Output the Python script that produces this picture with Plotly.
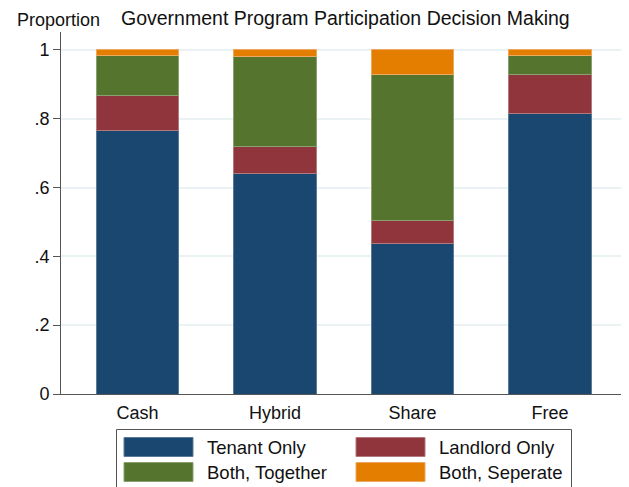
import plotly.graph_objects as go

# ── Data ──────────────────────────────────────────────
categories = ['Cash', 'Hybrid', 'Share', 'Free']
tenant_only = [0.765, 0.640, 0.436, 0.816]
landlord_only = [0.103, 0.078, 0.067, 0.112]
both_together = [0.115, 0.263, 0.425, 0.057]
both_separate = [0.017, 0.019, 0.072, 0.015]

series_names = ['Tenant Only', 'Landlord Only', 'Both, Together', 'Both, Seperate']
series_values = [tenant_only, landlord_only, both_together, both_separate]
colors = ['#1a476f', '#90353b', '#55752f', '#e37e00']
edge_colors = ['#5a7a98', '#b07a7e', '#8aa070', '#eea860']

y_tickvals = [0, 0.2, 0.4, 0.6, 0.8, 1]
y_ticktext = ['0', '.2', '.4', '.6', '.8', '1']

# page is shown with an 8px body margin, so the figure is 8px smaller
OFF = 8
W, H = 629 - OFF, 487 - OFF
L, R, T, B = 61 - OFF, 0, 32 - OFF, 93
FONT = 'Arial, Liberation Sans, sans-serif'


def px(x):
    # page pixel -> paper x
    return (x - OFF - L) / (W - L - R)


def py(y):
    # page pixel -> paper y
    return (H - B - (y - OFF)) / (H - T - B)


fig = go.Figure()
for name, vals, c, ec in zip(series_names, series_values, colors, edge_colors):
    fig.add_trace(go.Bar(
        x=categories, y=vals, name=name,
        marker=dict(color=c, line=dict(color=ec, width=1)),
        width=0.6, showlegend=False,
    ))

# ── Custom legend box (Stata-like) ────────────────────
fig.add_shape(type='rect', xref='paper', yref='paper',
              x0=px(116.5), x1=px(571.5), y0=py(500), y1=py(429.5),
              line=dict(color='#555555', width=1), fillcolor='white')
swatch_pos = [(124, 437.5), (356, 437.5), (124, 462.5), (356, 462.5)]
for (sx, sy), name, c, ec in zip(swatch_pos, series_names, colors, edge_colors):
    fig.add_shape(type='rect', xref='paper', yref='paper',
                  x0=px(sx), x1=px(sx + 69), y0=py(sy + 19), y1=py(sy),
                  line=dict(color=ec, width=1), fillcolor=c)
    fig.add_annotation(xref='paper', yref='paper', x=px(sx + 81), y=py(sy + 10),
                       text=name, showarrow=False, xanchor='left', yanchor='middle',
                       font=dict(family=FONT, size=18.5, color='#111111'))

# titles
fig.add_annotation(xref='paper', yref='paper', x=px(345), y=py(18),
                   text='Government Program Participation Decision Making',
                   showarrow=False, xanchor='center', yanchor='middle',
                   font=dict(family=FONT, size=19.5, color='#111111'))
fig.add_annotation(xref='paper', yref='paper', x=px(58), y=py(20),
                   text='Proportion', showarrow=False, xanchor='center', yanchor='middle',
                   font=dict(family=FONT, size=18, color='#111111'))

fig.update_layout(
    width=W, height=H,
    barmode='stack', bargap=0.4,
    margin=dict(l=L, r=R, t=T, b=B),
    plot_bgcolor='white', paper_bgcolor='white',
    font=dict(family=FONT, size=18, color='#111111'),
    showlegend=False,
)
fig.update_yaxes(
    range=[0, 1.052], tickvals=y_tickvals, ticktext=y_ticktext,
    showgrid=True, gridcolor='#eaf2f3', gridwidth=1.5,
    showline=True, linecolor='#555555', linewidth=1,
    ticks='outside', ticklen=7, tickcolor='#555555',
    zeroline=False, tickfont=dict(size=18),
)
fig.update_xaxes(
    range=[-0.556, 3.575],
    showline=True, linecolor='#555555', linewidth=1,
    ticks='', ticklabelstandoff=2, tickfont=dict(size=18),
)

fig.write_html('out.html')
